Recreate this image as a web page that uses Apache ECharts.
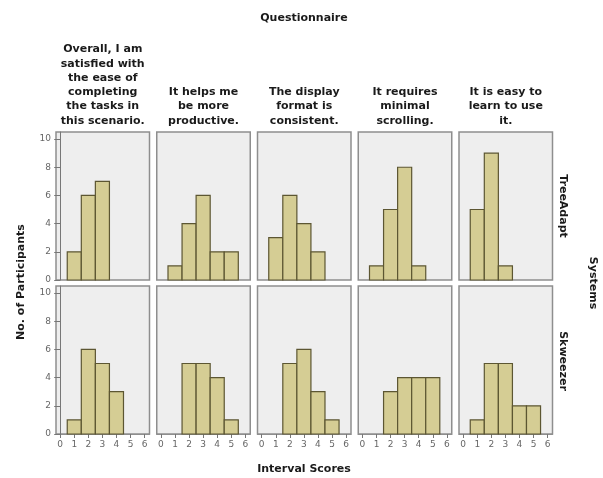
<!DOCTYPE html>
<html>
<head>
<meta charset="utf-8">
<script src="https://cdn.jsdelivr.net/npm/echarts@6/dist/echarts.min.js"></script>
<style>
  html, body { margin: 0; padding: 0; background: #ffffff; }
  #chart { width: 603px; height: 478px; }
</style>
</head>
<body>
<div id="chart"></div>
<script>
// Interval score bins (x axis)
const scores = [0, 1, 2, 3, 4, 5, 6];
const yTickValues = [0, 2, 4, 6, 8, 10];

// Questionnaire items (one column each)
const questions = [
  'Overall, I am\nsatisfied with\nthe ease of\ncompleting\nthe tasks in\nthis scenario.',
  'It helps me\nbe more\nproductive.',
  'The display\nformat is\nconsistent.',
  'It requires\nminimal\nscrolling.',
  'It is easy to\nlearn to use\nit.'
];

// Systems (one row each)
const systems = ['TreeAdapt', 'Skweezer'];

// Number of participants per score, TreeAdapt
const treeAdaptCounts = [
  [0, 2, 6, 7, 0, 0, 0],
  [0, 1, 4, 6, 2, 2, 0],
  [0, 3, 6, 4, 2, 0, 0],
  [0, 1, 5, 8, 1, 0, 0],
  [0, 5, 9, 1, 0, 0, 0]
];

// Number of participants per score, Skweezer
const skweezerCounts = [
  [0, 1, 6, 5, 3, 0, 0],
  [0, 0, 5, 5, 4, 1, 0],
  [0, 0, 5, 6, 3, 1, 0],
  [0, 0, 3, 4, 4, 4, 0],
  [0, 1, 5, 5, 2, 2, 0]
];

const countsBySystem = [treeAdaptCounts, skweezerCounts];

const FONT = '"DejaVu Sans", Verdana, sans-serif';
const panelLeft0 = 56, panelPitch = 100.75, panelWidth = 93.5;
const rowTops = [132, 286], panelHeight = 148;

const grids = [], xAxes = [], yAxes = [], series = [];

systems.forEach(function (sys, r) {
  questions.forEach(function (q, c) {
    const idx = r * questions.length + c;
    grids.push({
      left: panelLeft0 + c * panelPitch,
      top: rowTops[r],
      width: panelWidth,
      height: panelHeight,
      show: true,
      backgroundColor: '#eeeeee',
      borderColor: '#8e8e8e',
      borderWidth: 1.5
    });
    const bottomRow = r === systems.length - 1;
    xAxes.push({
      type: 'value',
      gridIndex: idx,
      min: -0.3,
      max: 6.35,
      show: bottomRow,
      splitLine: { show: false },
      axisLine: { show: true, onZero: false, lineStyle: { color: '#8e8e8e', width: 1 } },
      axisTick: { show: true, length: 4, customValues: scores, lineStyle: { color: '#777777' } },
      axisLabel: {
        customValues: scores,
        margin: 6,
        fontSize: 9,
        color: '#666666',
        fontFamily: FONT
      }
    });
    const leftCol = c === 0;
    yAxes.push({
      type: 'value',
      gridIndex: idx,
      min: 0,
      max: 10.5,
      show: leftCol,
      offset: 2,
      splitLine: { show: false },
      axisLine: { show: true, lineStyle: { color: '#777777', width: 1 } },
      axisTick: { show: true, length: 6, customValues: yTickValues, lineStyle: { color: '#777777' } },
      axisLabel: {
        customValues: yTickValues,
        margin: 3,
        fontSize: 9,
        color: '#666666',
        fontFamily: FONT
      }
    });
    const data = [];
    countsBySystem[r][c].forEach(function (n, i) {
      if (n > 0) data.push([scores[i], n]);
    });
    series.push({
      type: 'custom',
      xAxisIndex: idx,
      yAxisIndex: idx,
      data: data,
      renderItem: function (params, api) {
        const x = api.value(0), n = api.value(1);
        const topLeft = api.coord([x - 0.5, n]);
        const bottomRight = api.coord([x + 0.5, 0]);
        return {
          type: 'rect',
          shape: {
            x: topLeft[0],
            y: topLeft[1],
            width: bottomRight[0] - topLeft[0],
            height: bottomRight[1] - topLeft[1]
          },
          style: { fill: '#d5cd94', stroke: '#5c5632', lineWidth: 1.2 }
        };
      }
    });
  });
});

// Column headers, row headers and axis titles
const graphics = [];
questions.forEach(function (q, c) {
  graphics.push({
    type: 'text',
    x: panelLeft0 + c * panelPitch + panelWidth / 2,
    y: 128,
    style: {
      text: q,
      font: 'bold 11px ' + FONT,
      fill: '#1a1a1a',
      align: 'center',
      verticalAlign: 'bottom',
      lineHeight: 14.3
    }
  });
});
systems.forEach(function (s, r) {
  graphics.push({
    type: 'text',
    x: 563,
    y: rowTops[r] + (r === 0 ? 74 : 75),
    rotation: -Math.PI / 2,
    style: {
      text: s,
      font: 'bold 11px ' + FONT,
      fill: '#1a1a1a',
      align: 'center',
      verticalAlign: 'middle'
    }
  });
});
graphics.push({
  type: 'text', x: 304, y: 18,
  style: { text: 'Questionnaire', font: 'bold 11px ' + FONT, fill: '#1a1a1a', align: 'center', verticalAlign: 'middle' }
});
graphics.push({
  type: 'text', x: 304, y: 469,
  style: { text: 'Interval Scores', font: 'bold 11px ' + FONT, fill: '#1a1a1a', align: 'center', verticalAlign: 'middle' }
});
graphics.push({
  type: 'text', x: 593, y: 283, rotation: -Math.PI / 2,
  style: { text: 'Systems', font: 'bold 11px ' + FONT, fill: '#1a1a1a', align: 'center', verticalAlign: 'middle' }
});
graphics.push({
  type: 'text', x: 21, y: 282, rotation: Math.PI / 2,
  style: { text: 'No. of Participants', font: 'bold 11px ' + FONT, fill: '#1a1a1a', align: 'center', verticalAlign: 'middle' }
});

const chart = echarts.init(document.getElementById('chart'), null, { renderer: 'canvas' });
chart.setOption({
  animation: false,
  backgroundColor: '#ffffff',
  grid: grids,
  xAxis: xAxes,
  yAxis: yAxes,
  series: series,
  graphic: graphics
});
</script>
</body>
</html>
